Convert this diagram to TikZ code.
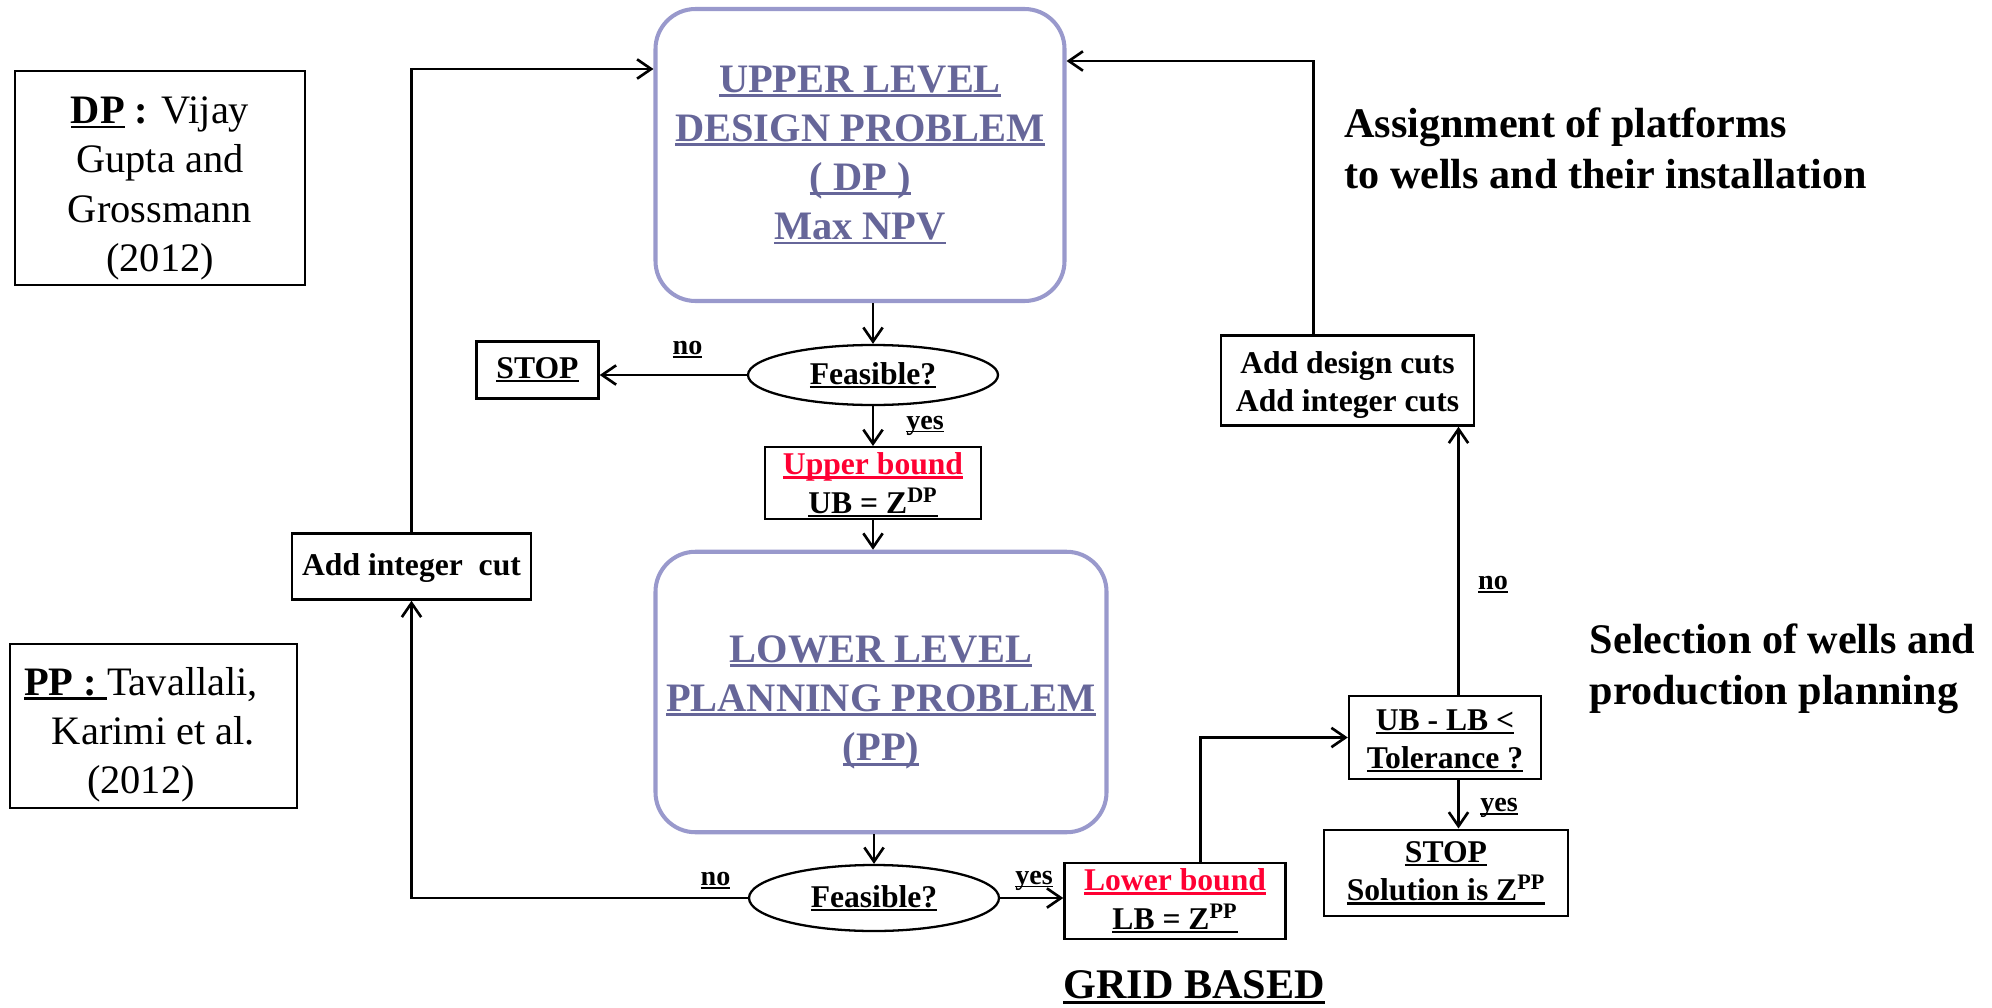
\documentclass[tikz,border=0pt]{standalone}
\usepackage{fontspec}
\setmainfont{Liberation Serif}
\usepackage{tikz}
\usetikzlibrary{arrows.meta, shapes.geometric}
\usepackage{xcolor}
\definecolor{probtext}{RGB}{102, 102, 153}
\definecolor{probedge}{RGB}{153, 153, 204}
\definecolor{boundred}{RGB}{255, 0, 51}
\newcommand{\undl}[1]{\setbox0\hbox{#1}\rlap{\rule[-0.12em]{\wd0}{0.07em}}\box0}

\begin{document}
\begin{tikzpicture}[scale=1.0, >={Straight Barb[length=8pt,width=11pt]},
  probbox/.style={draw=probedge, line width=2.3pt, rounded corners=0.8cm, text=probtext, align=center, inner sep=0pt, font=\fontsize{23}{28}\selectfont\bfseries},
  testnode/.style={draw, ellipse, line width=1.3pt, minimum width=5cm, minimum height=1.2cm, inner sep=0pt, font=\fontsize{18}{22}\selectfont\bfseries},
  plainbox/.style={draw, line width=1.4pt, align=center, inner sep=0pt, font=\fontsize{18}{22}\selectfont\bfseries},
  refbox/.style={draw, line width=1.1pt, align=center, inner sep=0pt, font=\fontsize{23}{28}\selectfont},
  lbl/.style={inner sep=0pt, font=\fontsize{16}{18}\selectfont\bfseries},
  sidetext/.style={align=left, anchor=west, inner sep=0pt, font=\fontsize{24}{29}\selectfont\bfseries},
  link/.style={->, line width=1.5pt}]

  \useasboundingbox (0,0) rectangle (39.84,-20.15);

  % ---------- Reference boxes ----------
  \node[refbox, minimum width=5.80cm, minimum height=4.27cm] (dpref) at (3.20,-3.56) {\rule{0pt}{0.95cm}\undl{\textbf{DP}}\textbf{ :} Vijay\\ Gupta and\\ Grossmann\\ (2012)};
  \node[refbox, minimum width=5.75cm, minimum height=3.28cm] (ppref) at (3.07,-14.52) {\rule{0pt}{0.9cm}\undl{\textbf{PP : }}Tavallali,\hspace*{0.5cm}\\ Karimi et al.\hspace*{0.5cm}\\ (2012)\hspace*{0.5cm}};

  % ---------- Upper level ----------
  \node[probbox, minimum width=8.18cm, minimum height=5.84cm] (dp) at (17.20,-3.10) {\undl{UPPER LEVEL}\\ \undl{DESIGN PROBLEM}\\ \undl{( DP )}\\ \undl{Max NPV}};
  \node[testnode] (feas1) at (17.46,-7.50) {\undl{Feasible?}};
  \node[plainbox, minimum width=2.44cm, minimum height=1.14cm] (stop1) at (10.75,-7.40) {\undl{STOP}};
  \node[plainbox, minimum width=4.32cm, minimum height=1.43cm] (ub) at (17.46,-9.66) {\rule{0pt}{0.52cm}\textcolor{boundred}{\undl{Upper bound}}\\ \undl{UB = Z\textsuperscript{DP}}};
  \node[lbl] (no1) at (13.75,-6.99) {\undl{no}};
  \node[lbl] (yes1) at (18.50,-8.51) {\undl{yes}};

  % ---------- Lower level ----------
  \node[probbox, minimum width=9.02cm, minimum height=5.61cm] (pp) at (17.62,-13.84) {\rule{0pt}{0.95cm}\undl{LOWER LEVEL}\\ \undl{PLANNING PROBLEM}\\ \undl{(PP)}};
  \node[testnode, minimum height=1.32cm] (feas2) at (17.48,-17.96) {\undl{Feasible?}};
  \node[plainbox, minimum width=4.42cm, minimum height=1.53cm] (lb) at (23.50,-18.02) {\textcolor{boundred}{\undl{Lower bound}}\\ \undl{LB = Z\textsuperscript{PP}}};
  \node[plainbox, minimum width=4.78cm, minimum height=1.32cm] (intcut) at (8.23,-11.33) {\rule{0pt}{0.5cm}Add integer~ cut};
  \node[lbl] (no2) at (14.31,-17.61) {\undl{no}};
  \node[lbl] (yes2) at (20.68,-17.61) {\undl{yes}};
  \node[font=\fontsize{24}{29}\selectfont\bfseries, inner sep=0pt] (grid) at (23.88,-19.74) {\undl{GRID BASED}};

  % ---------- Convergence check ----------
  \node[plainbox, minimum width=3.84cm, minimum height=1.66cm] (tol) at (28.90,-14.75) {\rule{0pt}{0.55cm}\undl{UB - LB <}\\ \undl{Tolerance ?}};
  \node[plainbox, minimum width=4.88cm, minimum height=1.73cm] (stop2) at (28.92,-17.46) {\undl{STOP}\\ \undl{Solution is Z\textsuperscript{PP}}};
  \node[plainbox, minimum width=5.05cm, minimum height=1.80cm] (cuts) at (26.95,-7.61) {\rule{0pt}{0.62cm}Add design cuts\\ Add integer cuts};
  \node[lbl] (yes3) at (29.98,-16.16) {\undl{yes}};
  \node[lbl] (no3) at (29.86,-11.69) {\undl{no}};

  \node[sidetext] (assign) at (26.88,-2.96) {Assignment of platforms\\ to wells and their installation};
  \node[sidetext] (select) at (31.79,-13.38) {Selection of wells and\\ production planning};

  % ---------- Connectors ----------
  \draw[link] (feas1.north |- dp.south) -- (feas1.north);
  \draw[link] (feas1.west) -- (feas1.west -| stop1.east);
  \draw[link] (feas1.south) -- (ub.north);
  \draw[link] (ub.south) -- (ub.south |- pp.north);
  \draw[link] (feas2.north |- pp.south) -- (feas2.north);
  \draw[link] (feas2.west) -| (intcut.south);
  \draw[link] (intcut.north) |- ([yshift=1.72cm]dp.west);
  \draw[link] (feas2.east) -- (feas2.east -| lb.west);
  \draw[link] ([xshift=0.51cm]lb.north) |- (tol.west);
  \draw[link] ([xshift=0.27cm]tol.south) -- ([xshift=0.27cm]tol.south |- stop2.north);
  \draw[link] ([xshift=0.27cm]tol.north) -- ([xshift=0.27cm]tol.north |- cuts.south);
  \draw[link] ([xshift=-0.68cm]cuts.north) |- ([yshift=1.88cm]dp.east);

\end{tikzpicture}
\end{document}
